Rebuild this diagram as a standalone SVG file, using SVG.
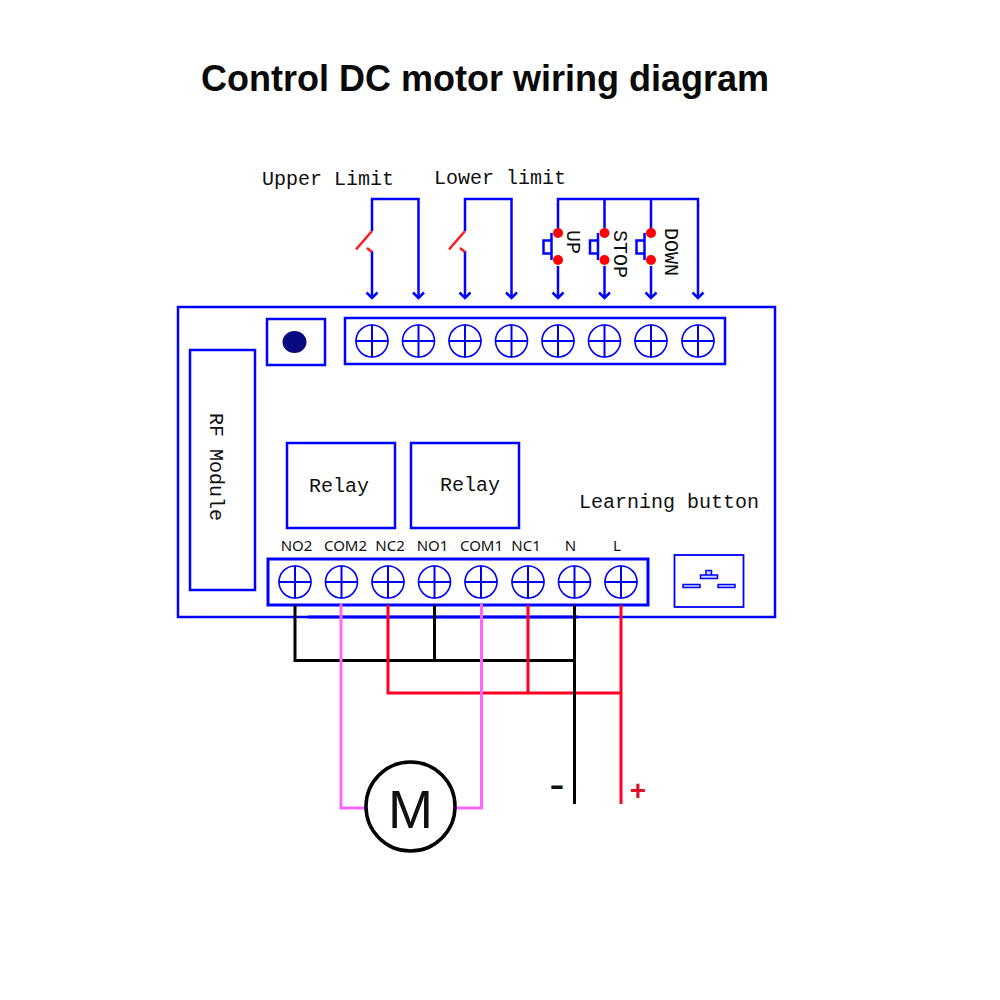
<svg xmlns="http://www.w3.org/2000/svg" width="1000" height="1000" viewBox="0 0 1000 1000">
<style>
.b{fill:none;stroke:#0000ff;stroke-width:2.5}
.t{fill:none;stroke:#0000ff;stroke-width:1.6}
.w{fill:none;stroke:#0000ff;stroke-width:2.5}
.m{font-family:"Liberation Mono",monospace;font-size:20px;fill:#111}
.s{font-family:"Noto Sans","Liberation Sans",sans-serif;font-size:15px;fill:#111;text-anchor:middle}
.d{fill:#ff0000}
.sw{fill:none;stroke:#ff1a1a;stroke-width:2.500}
</style>
<defs>
<g id="screw"><circle r="16" class="t"/><path d="M-16.500 0H16.500M0-16.500V16.500" fill="none" stroke="#0000ff" stroke-width="2"/></g>
<marker id="arrd" markerUnits="userSpaceOnUse" markerWidth="14" markerHeight="12" refX="7" refY="10" orient="0" viewBox="0 0 14 12"><path d="M1.500 4.500L7 10L12.500 4.500" fill="none" stroke="#0000ff" stroke-width="2.500"/></marker>
</defs>
<text id="title" x="485" y="91" font-family="Liberation Sans,sans-serif" font-size="36" font-weight="700" text-anchor="middle" fill="#0a0a0a">Control DC motor wiring diagram</text>

<g id="board">
<rect x="178" y="307" width="597" height="310" class="b"/>
<rect x="190" y="350" width="65" height="240" class="b"/>
<text class="m" transform="translate(210 413) rotate(90)">RF Module</text>
<rect x="267" y="319" width="58" height="46" class="b"/>
<ellipse cx="294.500" cy="342" rx="12" ry="11" fill="#0a0a80"/>
</g>
<g id="relay1"><rect x="287" y="443" width="108" height="85" class="b"/><text class="m" x="309" y="492">Relay</text></g>
<g id="relay2"><rect x="411" y="443" width="108" height="85" class="b"/><text class="m" x="440" y="491">Relay</text></g>
<g id="learning"><text class="m" x="579" y="508">Learning button</text>
<rect x="674.500" y="555" width="69" height="52" fill="none" stroke="#0000ff" stroke-width="1.800"/>
<path d="M683 584.500h17v3h-17zM718 584.500h17v3h-17zM700.500 575h17v3.500h-17zM706 570.500h5.500v4.500h-5.500z" fill="#c8d8ff" stroke="#0000ff" stroke-width="1.500"/></g>

<g id="top-terminals">
<rect x="345" y="318" width="380" height="46" class="b"/>
<use href="#screw" x="372" y="341"/><use href="#screw" x="418.500" y="341"/><use href="#screw" x="465" y="341"/><use href="#screw" x="511.500" y="341"/><use href="#screw" x="558" y="341"/><use href="#screw" x="604.500" y="341"/><use href="#screw" x="651" y="341"/><use href="#screw" x="698" y="341"/>
</g>
<g id="bottom-terminals">
<rect x="268" y="559" width="380" height="46" fill="none" stroke="#0000ff" stroke-width="3"/>
<use href="#screw" x="295" y="582"/><use href="#screw" x="341.500" y="582"/><use href="#screw" x="388" y="582"/><use href="#screw" x="434.500" y="582"/><use href="#screw" x="481" y="582"/><use href="#screw" x="528" y="582"/><use href="#screw" x="574.500" y="582"/><use href="#screw" x="621" y="582"/>
<text class="s" x="296.500" y="551">NO2</text><text class="s" x="345.500" y="551">COM2</text><text class="s" x="390" y="551">NC2</text><text class="s" x="432.500" y="551">NO1</text><text class="s" x="481.500" y="551">COM1</text><text class="s" x="526" y="551">NC1</text><text class="s" x="570.500" y="551">N</text><text class="s" x="617" y="551">L</text>
</g>

<g id="connectors" fill="none">
<path d="M372 251V298" class="w" marker-end="url(#arrd)"/><path d="M372 231V199H418.500V298" class="w" marker-end="url(#arrd)"/>
<path d="M465 251V298" class="w" marker-end="url(#arrd)"/><path d="M465 231V199H511.500V298" class="w" marker-end="url(#arrd)"/>
<path d="M558 266V298" class="w" marker-end="url(#arrd)"/><path d="M604.500 266V298" class="w" marker-end="url(#arrd)"/><path d="M651 266V298" class="w" marker-end="url(#arrd)"/>
<path d="M558 228V199H698V298" class="w" marker-end="url(#arrd)"/><path d="M604.500 199V228M651 199V228" class="w"/>
<path d="M308 617H578" stroke="#0000ff" stroke-width="3"/>
<path d="M295 605V660.500H574.500M434.500 605V660.500" stroke="#000" stroke-width="3"/>
<path d="M388 605V693H621M528 605V693" stroke="#ff0022" stroke-width="3"/>
<path d="M341 604V808H366M481.500 604V808H456" stroke="#ff66ff" stroke-width="3"/>
<path d="M574.500 605V804" stroke="#000" stroke-width="3"/>
<path d="M621 605V804" stroke="#ff0022" stroke-width="3"/>
</g>

<g id="upper-limit"><text class="m" x="262" y="185">Upper Limit</text>
<path d="M372 231L356 249.500M367 248L372 252" class="sw"/></g>
<g id="lower-limit"><text class="m" x="434" y="184">Lower limit</text>
<path d="M465 231L449 249.500M460 248L465 252" class="sw"/></g>

<g id="btn-up">
<path d="M551.500 233V260M551.500 240.500H543.500V253.500H551.500" class="w"/>
<circle class="d" cx="558" cy="233" r="5"/><circle class="d" cx="558" cy="260" r="5"/>
<text class="m" transform="translate(567 230) rotate(90)">UP</text></g>
<g id="btn-stop">
<path d="M598 233V260M598 240.500H590V253.500H598" class="w"/>
<circle class="d" cx="604.500" cy="233" r="5"/><circle class="d" cx="604.500" cy="260" r="5"/>
<text class="m" transform="translate(614 230) rotate(90)">STOP</text></g>
<g id="btn-down">
<path d="M644.500 233V260M644.500 240.500H636.500V253.500H644.500" class="w"/>
<circle class="d" cx="651" cy="233" r="5"/><circle class="d" cx="651" cy="260" r="5"/>
<text class="m" transform="translate(665 228) rotate(90)">DOWN</text></g>

<g id="motor"><circle cx="410.500" cy="806.500" r="44.500" fill="#fff" stroke="#000" stroke-width="3.500"/>
<text x="410.500" y="828" font-family="Liberation Sans,sans-serif" font-size="54" text-anchor="middle" fill="#111">M</text></g>
<g id="minus"><text x="557" y="800" font-family="Liberation Sans,sans-serif" font-size="46" text-anchor="middle" fill="#111">-</text></g>
<g id="plus"><text x="638" y="800" font-family="Liberation Sans,sans-serif" font-size="28" font-weight="700" text-anchor="middle" fill="#e0102a">+</text></g>
</svg>
